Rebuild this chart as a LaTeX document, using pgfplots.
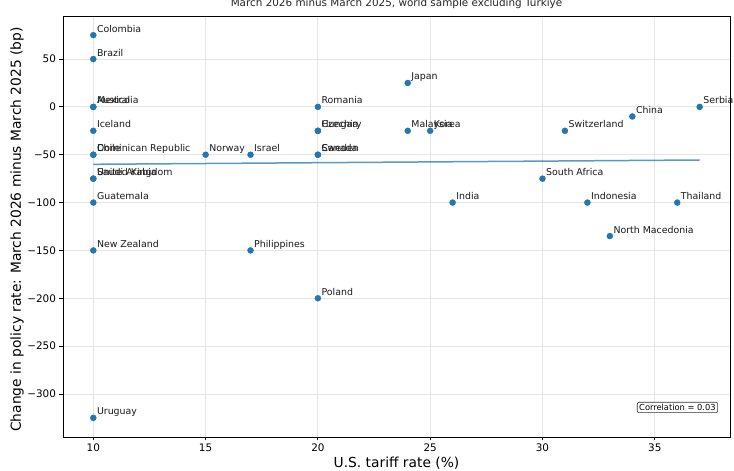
\documentclass[border=0pt]{standalone}
\usepackage{fontspec}
\setmainfont{DejaVu Sans}
\usepackage{pgfplots}
\pgfplotsset{compat=1.18}
\usetikzlibrary{calc}
\definecolor{c1}{HTML}{1F77B4}
\newcommand{\fs}[1]{\fontsize{#1}{#1}\selectfont}
\begin{document}
\begin{tikzpicture}
\begin{axis}[
  name=ax,
  scale only axis,
  width=667pt, height=421pt,
  xmin=8.65, xmax=38.35,
  ymin=-345, ymax=95,
  xtick={10,15,20,25,30,35},
  ytick={-300,-250,-200,-150,-100,-50,0,50},
  yticklabels={−300,−250,−200,−150,−100,−50,0,50},
  /pgf/number format/assume math mode=true,
  tick label style={font=\fs{10.4}, text=black},
  tick align=outside,
  major tick length=3.5pt,
  tick style={black, line width=0.8pt},
  xtick pos=left, ytick pos=left,
  axis line style={black, line width=0.8pt},
  grid=major,
  major grid style={black!10, line width=0.8pt},
  clip=false,
]
\addplot[c1, line width=1.5pt, opacity=0.75] coordinates {(10,-60) (37,-55.5)};
\addplot[only marks, mark=*, mark size=3pt, color=c1, mark options={draw=c1, fill=c1},
  nodes near coords, point meta=explicit symbolic,
  nodes near coords style={anchor=base west, inner sep=0pt, xshift=3.5pt, yshift=3pt, font=\fs{9.4}, text=black!90}]
  table[col sep=comma, x=x, y=y, meta=label] {
x,y,label
10,75,Colombia
10,50,Brazil
10,0,Australia
10,0,Mexico
10,-25,Iceland
10,-50,Chile
10,-50,Dominican Republic
10,-75,Saudi Arabia
10,-75,United Kingdom
10,-100,Guatemala
10,-150,New Zealand
10,-325,Uruguay
15,-50,Norway
17,-50,Israel
17,-150,Philippines
20,0,Romania
20,-25,Czechia
20,-25,Hungary
20,-50,Sweden
20,-50,Canada
20,-200,Poland
24,25,Japan
24,-25,Malaysia
25,-25,Korea
26,-100,India
30,-75,South Africa
31,-25,Switzerland
32,-100,Indonesia
33,-135,North Macedonia
34,-10,China
36,-100,Thailand
37,0,Serbia
};
\node[anchor=south east, draw=black!80, rounded corners=2pt, fill=white, inner sep=2pt, font=\fs{8.3}, line width=0.6pt]
  at (rel axis cs:0.982,0.057) {Correlation = 0.03};
\end{axis}
\node[anchor=base, font=\fs{10.4}, text=black!85] at ($(ax.north)+(0,9pt)$)
  {March 2026 minus March 2025, world sample excluding Türkiye};
\node[font=\fs{13.8}] at ($(ax.south)+(0,-26pt)$) {U.S. tariff rate (\%)};
\node[font=\fs{13.8}, rotate=90] at ($(ax.west)+(-46pt,-3pt)$)
  {Change in policy rate: March 2026 minus March 2025 (bp)};
\pgfresetboundingbox
\path[use as bounding box] ($(ax.south west)+(-63pt,-34pt)$) rectangle ($(ax.south west)+(671pt,437pt)$);
\end{tikzpicture}
\end{document}
